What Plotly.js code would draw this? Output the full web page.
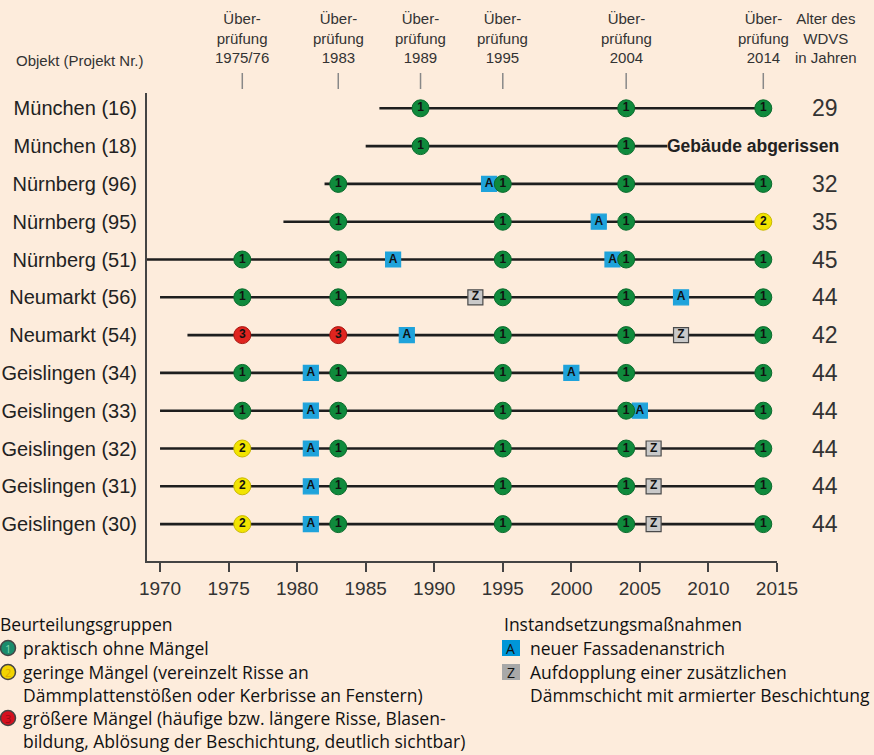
<!DOCTYPE html>
<html>
<head>
<meta charset="utf-8">
<script src="https://cdn.plot.ly/plotly-3.0.1.min.js"></script>
<style>
  html, body { margin: 0; padding: 0; background: #fdecdc; }
  #chart { width: 874px; height: 755px; }
</style>
</head>
<body>
<div id="chart"></div>
<script>
// ---------- data ----------
const objects = ['München (16)', 'München (18)', 'Nürnberg (96)', 'Nürnberg (95)', 'Nürnberg (51)',
  'Neumarkt (56)', 'Neumarkt (54)', 'Geislingen (34)', 'Geislingen (33)', 'Geislingen (32)',
  'Geislingen (31)', 'Geislingen (30)'];
const ageYears = ['29', '', '32', '35', '45', '44', '42', '44', '44', '44', '44', '44'];
const lineStart = [1986, 1985, 1982, 1979, 1969, 1970, 1972, 1970, 1970, 1970, 1970, 1970];
const lineEnd = [2014, 2007, 2014, 2014, 2014, 2014, 2014, 2014, 2014, 2014, 2014, 2014];
const demolishedRow = 1;
const demolishedText = 'Gebäude abgerissen';
const inspectionYears = [1976, 1983, 1989, 1995, 2004, 2014];
const inspectionLabels = ['Über-<br>prüfung<br>1975/76', 'Über-<br>prüfung<br>1983', 'Über-<br>prüfung<br>1989',
  'Über-<br>prüfung<br>1995', 'Über-<br>prüfung<br>2004', 'Über-<br>prüfung<br>2014'];
// rating per row at each inspection (null = no inspection)
const ratings = [
  [null, null, 1, null, 1, 1],
  [null, null, 1, null, 1, null],
  [null, 1, null, 1, 1, 1],
  [null, 1, null, 1, 1, 2],
  [1, 1, null, 1, 1, 1],
  [1, 1, null, 1, 1, 1],
  [3, 3, null, 1, 1, 1],
  [1, 1, null, 1, 1, 1],
  [1, 1, null, 1, 1, 1],
  [2, 1, null, 1, 1, 1],
  [2, 1, null, 1, 1, 1],
  [2, 1, null, 1, 1, 1]
];
// repair measures
const measureRow  = [2, 3, 4, 4, 5, 5, 6, 6, 7, 7, 8, 8, 9, 9, 10, 10, 11, 11];
const measureYear = [1994, 2002, 1987, 2003, 1993, 2008, 1988, 2008, 1981, 2000, 1981, 2005, 1981, 2006, 1981, 2006, 1981, 2006];
const measureType = ['A', 'A', 'A', 'A', 'Z', 'A', 'A', 'Z', 'A', 'A', 'A', 'A', 'A', 'Z', 'A', 'Z', 'A', 'Z'];
const xTicks = [1970, 1975, 1980, 1985, 1990, 1995, 2000, 2005, 2010, 2015];

// ---------- styles ----------
const BG = '#fdecdc';
const gradeFill = {1: '#0f8a3c', 2: '#f2e400', 3: '#e0241f'};
const gradeLine = {1: '#0a6a2c', 2: '#c9b800', 3: '#a8150f'};
const measureFill = {A: '#1fa3db', Z: '#c9c9c9'};
const measureLine = {A: '#1fa3db', Z: '#4a4a4a'};
const FONT = 'Liberation Sans, Arial, sans-serif';
const LFONT = 'Open Sans, Noto Sans, sans-serif';

// plot area pixels
const L = 147, R = 777, T = 93, B = 561;
const W = R - L, H = B - T;
const px = v => (v - L) / W;
const py = v => (B - v) / H;

const rows = objects.map((_, i) => i);

// row lines
const lx = [], ly = [];
rows.forEach(i => { lx.push(lineStart[i], lineEnd[i], null); ly.push(i, i, null); });
const traces = [{
  type: 'scatter', mode: 'lines', x: lx, y: ly, hoverinfo: 'skip',
  line: {color: '#1e1e1e', width: 2.6}, showlegend: false
}];

// measures (squares)
['A', 'Z'].forEach(t => {
  const x = [], y = [], tx = [];
  measureType.forEach((m, k) => { if (m === t) { x.push(measureYear[k]); y.push(measureRow[k]); tx.push(t); } });
  traces.push({
    type: 'scatter', mode: 'markers+text', x, y, text: tx, texttemplate: '<b>%{text}</b>',
    textposition: 'middle center', hoverinfo: 'skip', showlegend: false,
    textfont: {family: FONT, size: 12, color: '#111'},
    marker: {symbol: 'square', size: 15, color: measureFill[t], line: {color: measureLine[t], width: 1.2}}
  });
});

// ratings (circles)
[1, 2, 3].forEach(g => {
  const x = [], y = [], tx = [];
  ratings.forEach((r, i) => r.forEach((v, j) => { if (v === g) { x.push(inspectionYears[j]); y.push(i); tx.push(String(g)); } }));
  traces.push({
    type: 'scatter', mode: 'markers+text', x, y, text: tx, texttemplate: '<b>%{text}</b>',
    textposition: 'middle center', hoverinfo: 'skip', showlegend: false,
    textfont: {family: FONT, size: 12, color: '#111'},
    marker: {symbol: 'circle', size: 17, color: gradeFill[g], line: {color: gradeLine[g], width: 1}}
  });
});

// ---------- annotations ----------
const ann = [];
// header
ann.push({xref: 'paper', yref: 'paper', x: px(14), y: py(60), xanchor: 'left', yanchor: 'middle',
  text: 'Objekt (Projekt Nr.)', showarrow: false, font: {family: FONT, size: 15, color: '#333'}});
inspectionYears.forEach((yr, j) => ann.push({xref: 'x', yref: 'paper', x: yr, y: py(38), xanchor: 'center', yanchor: 'middle',
  text: inspectionLabels[j], showarrow: false, font: {family: FONT, size: 15, color: '#333'}}));
ann.push({xref: 'paper', yref: 'paper', x: px(826), y: py(38), xanchor: 'center', yanchor: 'middle',
  text: 'Alter des<br>WDVS<br>in Jahren', showarrow: false, font: {family: FONT, size: 15, color: '#333'}});
// ages
rows.forEach(i => { if (ageYears[i]) ann.push({xref: 'paper', yref: 'y', x: px(825), y: i, xanchor: 'center', yanchor: 'middle',
  text: ageYears[i], showarrow: false, font: {family: FONT, size: 23, color: '#333'}}); });
ann.push({xref: 'x', yref: 'y', x: lineEnd[demolishedRow], y: demolishedRow, xanchor: 'left', yanchor: 'middle', xshift: -2,
  text: '<b>' + demolishedText + '</b>', showarrow: false, font: {family: FONT, size: 17.5, color: '#222'}});

// legend texts
const legLeft = [
  ['Beurteilungsgruppen', -2, 624],
  ['praktisch ohne Mängel', 21, 648],
  ['geringe Mängel (vereinzelt Risse an', 21, 672],
  ['Dämmplattenstößen oder Kerbrisse an Fenstern)', 21, 695],
  ['größere Mängel (häufige bzw. längere Risse, Blasen-', 21, 718],
  ['bildung, Ablösung der Beschichtung, deutlich sichtbar)', 21, 741]
];
const legRight = [
  ['Instandsetzungsmaßnahmen', 502, 624],
  ['neuer Fassadenanstrich', 528, 648],
  ['Aufdopplung einer zusätzlichen', 528, 672],
  ['Dämmschicht mit armierter Beschichtung', 528, 695]
];
legLeft.concat(legRight).forEach(([t, x, y]) => ann.push({xref: 'paper', yref: 'paper', x: px(x), y: py(y),
  xanchor: 'left', yanchor: 'middle', text: t, showarrow: false, font: {family: LFONT, size: 17.5, color: '#111'}}));

// ---------- shapes ----------
const shapes = [];
inspectionYears.forEach(yr => shapes.push({type: 'line', xref: 'x', yref: 'paper', x0: yr, x1: yr, y0: py(73), y1: py(89),
  line: {color: '#888', width: 1.5}}));
// legend circles
const legCirc = [[1, 648, '#1a8c6c', '#7fd8b0'], [2, 672, '#f3d400', '#e0a800'], [3, 718, '#d5101e', '#9a0a14']];
legCirc.forEach(([g, y, fill, num]) => {
  shapes.push({type: 'circle', xref: 'paper', yref: 'paper', xsizemode: 'pixel', ysizemode: 'pixel',
    xanchor: px(8), yanchor: py(y), x0: -7.5, x1: 7.5, y0: -7.5, y1: 7.5, fillcolor: fill, line: {color: '#444', width: 1.5}});
  ann.push({xref: 'paper', yref: 'paper', x: px(8), y: py(y), xanchor: 'center', yanchor: 'middle', text: String(g),
    showarrow: false, font: {family: LFONT, size: 11, color: num}});
});
const legSq = [['A', 648, '#0096d8'], ['Z', 672, '#a8a8a8']];
legSq.forEach(([t, y, fill]) => {
  shapes.push({type: 'rect', xref: 'paper', yref: 'paper', xsizemode: 'pixel', ysizemode: 'pixel',
    xanchor: px(511), yanchor: py(y), x0: -9, x1: 9, y0: -8, y1: 8, fillcolor: fill, line: {width: 0}});
  ann.push({xref: 'paper', yref: 'paper', x: px(511), y: py(y), xanchor: 'center', yanchor: 'middle', text: t,
    showarrow: false, font: {family: LFONT, size: 14, color: '#111'}});
});

const layout = {
  width: 874, height: 755,
  margin: {l: L, r: 874 - R, t: T, b: 755 - B},
  paper_bgcolor: BG, plot_bgcolor: BG,
  showlegend: false,
  xaxis: {
    range: [1969.05, 2015], tickvals: xTicks, showgrid: false, zeroline: false,
    showline: true, linecolor: '#444', linewidth: 2,
    ticks: 'outside', ticklen: 9, tickwidth: 2, tickcolor: '#444',
    tickfont: {family: FONT, size: 19, color: '#333'}
  },
  yaxis: {
    range: [11.976, -0.405], tickvals: rows, ticktext: objects, showgrid: false, zeroline: false,
    showline: true, linecolor: '#444', linewidth: 2,
    ticks: 'outside', ticklen: 4, tickcolor: 'rgba(0,0,0,0)',
    tickfont: {family: FONT, size: 20, color: '#222'}
  },
  annotations: ann,
  shapes: shapes
};

Plotly.newPlot('chart', traces, layout, {staticPlot: true, displayModeBar: false});
</script>
</body>
</html>
